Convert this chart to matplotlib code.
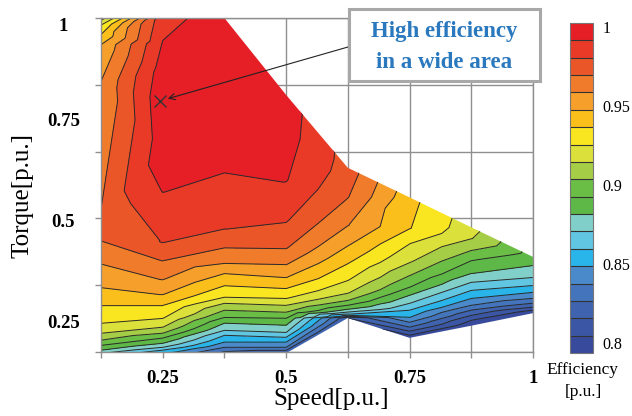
import numpy as np
import matplotlib
matplotlib.use("Agg")
import matplotlib.pyplot as plt
import matplotlib.tri as mtri
from matplotlib.patches import Polygon, Rectangle

plt.rcParams['font.family'] = ['Liberation Serif', 'DejaVu Serif']

# ---------------------------------------------------------------------------
# data
# ---------------------------------------------------------------------------
speed = [0.125, 0.25, 0.375, 0.5, 0.625, 0.75, 0.875, 1.0]
torque_max = [1.0, 1.0, 1.0, 0.81, 0.63, 0.557, 0.483, 0.41]
torque_min = [0.131, 0.143, 0.160, 0.172, 0.259, 0.21, 0.24, 0.271]

# torque / efficiency samples along each speed column (top -> bottom)
t_0125 = [1.0, 0.982, 0.958, 0.933, 0.839, 0.513, 0.481, 0.452, 0.395, 0.336, 0.291, 0.247, 0.222, 0.205, 0.192, 0.180, 0.131]
e_0125 = [0.909, 0.926, 0.937, 0.948, 0.959, 0.970, 0.972, 0.970, 0.959, 0.948, 0.937, 0.926, 0.915, 0.904, 0.893, 0.882, 0.827]

t_0250 = [1.0, 0.938, 0.871, 0.797, 0.674, 0.575, 0.447, 0.402, 0.355, 0.318, 0.291, 0.259, 0.237, 0.222, 0.210, 0.197, 0.187, 0.180, 0.143]
e_0250 = [0.987, 0.992, 0.997, 1.000, 0.998, 0.992, 0.981, 0.970, 0.959, 0.948, 0.937, 0.926, 0.915, 0.904, 0.893, 0.882, 0.871, 0.860, 0.810]

t_0375 = [1.0, 0.797, 0.624, 0.481, 0.434, 0.395, 0.370, 0.340, 0.311, 0.296, 0.279, 0.261, 0.247, 0.229, 0.217, 0.200, 0.187, 0.160]
e_0375 = [0.998, 1.000, 0.992, 0.981, 0.970, 0.959, 0.948, 0.937, 0.926, 0.915, 0.904, 0.893, 0.882, 0.871, 0.860, 0.849, 0.838, 0.810]

t_0500 = [0.81, 0.72, 0.600, 0.498, 0.432, 0.392, 0.360, 0.333, 0.308, 0.291, 0.274, 0.259, 0.242, 0.224, 0.212, 0.200, 0.187, 0.172]
e_0500 = [0.997, 0.996, 0.992, 0.981, 0.970, 0.959, 0.948, 0.937, 0.926, 0.915, 0.904, 0.893, 0.882, 0.871, 0.860, 0.849, 0.838, 0.816]

t_0625 = [0.63, 0.558, 0.489, 0.439, 0.395, 0.353, 0.321, 0.303, 0.291, 0.281, 0.274, 0.269, 0.264, 0.259]
e_0625 = [0.976, 0.970, 0.959, 0.948, 0.937, 0.926, 0.915, 0.904, 0.893, 0.882, 0.871, 0.860, 0.843, 0.816]

t_0750 = [0.557, 0.481, 0.444, 0.397, 0.365, 0.336, 0.316, 0.296, 0.279, 0.261, 0.249, 0.237, 0.227, 0.217, 0.21]
e_0750 = [0.940, 0.937, 0.926, 0.915, 0.904, 0.893, 0.882, 0.871, 0.860, 0.849, 0.838, 0.827, 0.816, 0.805, 0.796]

t_0875 = [0.483, 0.456, 0.427, 0.402, 0.370, 0.348, 0.328, 0.308, 0.291, 0.279, 0.266, 0.254, 0.24]
e_0875 = [0.919, 0.915, 0.904, 0.893, 0.882, 0.871, 0.860, 0.849, 0.838, 0.827, 0.816, 0.805, 0.796]

t_1000 = [0.41, 0.390, 0.360, 0.340, 0.323, 0.308, 0.296, 0.286, 0.279, 0.271]
e_1000 = [0.887, 0.882, 0.871, 0.860, 0.849, 0.838, 0.827, 0.816, 0.805, 0.796]

torque_cols = [t_0125, t_0250, t_0375, t_0500, t_0625, t_0750, t_0875, t_1000]
eff_cols = [e_0125, e_0250, e_0375, e_0500, e_0625, e_0750, e_0875, e_1000]

best_point = (0.244, 0.795)

# contour bands (19 bands, ~0.011 each)
levels = 0.7935 + 0.011 * np.arange(20)
band_colors = ['#374a9c', '#3b56a4', '#3f63ae', '#4474bb', '#4a8acb', '#29b4ea',
               '#60c6e2', '#80cfc8', '#5db848', '#6abd45', '#a6cd46', '#dbe13a',
               '#f9e620', '#fbbf1b', '#f69f2b', '#f07b2b', '#eb5628', '#e93a28',
               '#e61f27']

# ---------------------------------------------------------------------------
# build triangulation
# ---------------------------------------------------------------------------
xs, ys, zs = [], [], []
for s, tc, ec in zip(speed, torque_cols, eff_cols):
    xs += [s] * len(tc)
    ys += tc
    zs += ec
xs = np.array(xs)
ys = np.array(ys)
zs = np.array(zs)
tri = mtri.Triangulation(xs, ys)

fig = plt.figure(figsize=(6.32, 4.16), dpi=100)
ax = fig.add_axes([0.1598, 0.1538, 0.6835, 0.8029])

# operating envelope used as clip region
env = list(zip(speed, torque_min)) + list(zip(speed[::-1], torque_max[::-1]))
clip = Polygon(env, closed=True, transform=ax.transData)

cs = ax.tricontourf(tri, zs, levels=levels, colors=band_colors, zorder=1)
cs.set_clip_path(clip)
cl = ax.tricontour(tri, zs, levels=levels[1:-1], colors='#2a2a2a', linewidths=0.7, zorder=2)
cl.set_clip_path(clip)

ax.set_xlim(0.125, 1.0)
ax.set_ylim(0.175, 1.0)

# ticks / grid
gcol = '#8f8f8f'
ax.set_xticks([0.25, 0.5, 0.75, 1.0])
ax.set_xticklabels(['0.25', '0.5', '0.75', '1'])
ax.set_xticks(np.arange(0.125, 1.001, 0.125), minor=True)
ax.set_yticks([0.25, 0.5, 0.75, 1.0])
ax.set_yticklabels(['0.25', '0.5', '0.75', '1'])
ax.set_yticks([0.175, 0.34, 0.505, 0.67, 0.835, 1.0], minor=True)
ax.xaxis.remove_overlapping_locs = False
ax.yaxis.remove_overlapping_locs = False
ax.set_axisbelow(True)
ax.grid(which='minor', color=gcol, linewidth=1.0)
ax.tick_params(which='major', length=0, labelsize=13.5)
ax.tick_params(axis='x', which='major', pad=13)
ax.tick_params(axis='y', which='major', pad=27)
ax.tick_params(which='minor', length=4, width=1, color=gcol, direction='out')
for lab in ax.get_xticklabels() + ax.get_yticklabels():
    lab.set_fontweight('bold')
for lab in ax.get_yticklabels():
    lab.set_horizontalalignment('center')
ax.get_yticklabels()[-1].set_verticalalignment('top')
for sp in ax.spines.values():
    sp.set_color(gcol)
    sp.set_linewidth(1.0)

ax.set_xlabel('Speed[p.u.]', fontsize=18)
ax.xaxis.set_label_coords(0.532, -0.108)
ax.set_ylabel('Torque[p.u.]', fontsize=18)
ax.yaxis.set_label_coords(-0.157, 0.47)

# best efficiency mark + callout
ax.plot(best_point[0], best_point[1], marker='x', ms=9, mew=1.0, color='#333333', zorder=4)
ax.annotate('', xy=best_point, xycoords='data',
            xytext=(348 / 632, 1 - 47 / 416), textcoords='figure fraction',
            arrowprops=dict(arrowstyle='->', color='#222222', lw=0.8,
                            shrinkA=0, shrinkB=6, mutation_scale=11),
            zorder=5)
fig.patches.append(Rectangle((349 / 632, 1 - 81 / 416), 191 / 632, 72 / 416,
                             transform=fig.transFigure, facecolor='white',
                             edgecolor='#a8a8a8', linewidth=2.2, zorder=6))
blue = '#2a78be'
fig.text(444 / 632, 1 - 31 / 416, 'High efficiency', ha='center', va='center',
         fontsize=16.5, fontweight='bold', color=blue, zorder=7)
fig.text(444 / 632, 1 - 63 / 416, 'in a wide area', ha='center', va='center',
         fontsize=16.5, fontweight='bold', color=blue, zorder=7)

# colorbar
cax = fig.add_axes([0.9019, 0.1514, 0.0364, 0.7933])
cb = fig.colorbar(cs, cax=cax, ticks=[0.8, 0.85, 0.9, 0.95, 1.0], drawedges=True)
cb.ax.set_yticklabels(['0.8', '0.85', '0.9', '0.95', '1'])
cb.ax.tick_params(length=0, pad=7, labelsize=11.5)
cb.outline.set_edgecolor('#777777')
cb.outline.set_linewidth(0.8)
cb.dividers.set_color('#333333')
cb.dividers.set_linewidth(0.8)
fig.text(582 / 632, 1 - 370 / 416, 'Efficiency', ha='center', va='center', fontsize=12.5)
fig.text(583 / 632, 1 - 392 / 416, '[p.u.]', ha='center', va='center', fontsize=12.5)

fig.savefig('out.png', dpi=100)
